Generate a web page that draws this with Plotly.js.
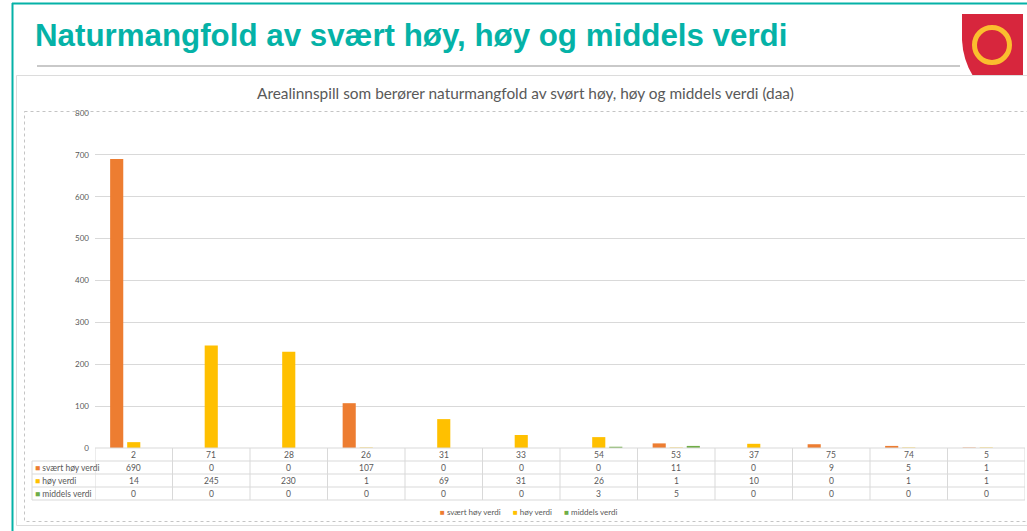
<!DOCTYPE html>
<html>
<head>
<meta charset="utf-8">
<script src="https://cdn.plot.ly/plotly-3.0.1.min.js"></script>
<style>
html,body{margin:0;padding:0;background:#fff;overflow:hidden;}
#chart{width:1027px;height:531px;}
</style>
</head>
<body>
<div id="chart"></div>
<script>
// ---- data ----
const categories = ['2','71','28','26','31','33','54','53','37','75','74','5'];
const svaertHoy = [690,0,0,107,0,0,0,11,0,9,5,1];
const hoy       = [14,245,230,1,69,31,26,1,10,0,1,1];
const middels   = [0,0,0,0,0,0,3,5,0,0,0,0];
const seriesNames = ['svært høy verdi','høy verdi','middels verdi'];
const yTicks = [0,100,200,300,400,500,600,700,800];
const slideTitle = 'Naturmangfold av svært høy, høy og middels verdi';
const chartTitle = 'Arealinnspill som berører naturmangfold av svørt høy, høy og middels verdi (daa)';

// ---- styling ----
const colors = ['#ED7D31','#FFC000','#70AD47'];
const seriesData = [svaertHoy, hoy, middels];
const W=1027, H=531, ml=95, mr=2, mt=113, mb=83;
const pw=W-ml-mr, ph=H-mt-mb;
const px = x => (x-ml)/pw;
const py = y => 1-(y-mt)/ph;
const gridC = '#d9d9d9', txtC = '#595959', teal = '#05B2A7';
const F = 'Lato, Carlito, Calibri, sans-serif';

const traces = seriesData.map((d,k)=>({
  type:'bar', x:categories, y:d, name:seriesNames[k],
  marker:{color:colors[k]}, hoverinfo:'skip', showlegend:false
}));

const shapes = [];
const ann = [];
// slide decorations
shapes.push({type:'line',xref:'paper',yref:'paper',x0:px(12.5),x1:px(12.5),y0:py(3),y1:py(540),line:{color:teal,width:2}});
shapes.push({type:'line',xref:'paper',yref:'paper',x0:px(12),x1:px(1040),y0:py(3.5),y1:py(3.5),line:{color:teal,width:2}});
shapes.push({type:'line',xref:'paper',yref:'paper',x0:px(37),x1:px(960),y0:py(66),y1:py(66),line:{color:'#c9c9c9',width:2}});
// logo
const p = (x,y)=>px(x).toFixed(5)+','+py(y).toFixed(5);
shapes.push({type:'path',xref:'paper',yref:'paper',
  path:'M'+p(962,14)+' L'+p(1023,14)+' L'+p(1023,76)+' L'+p(973,76)+' Q'+p(963,60)+' '+p(962,40)+' Z',
  fillcolor:'#D7263D',line:{width:0}});
shapes.push({type:'circle',xref:'paper',yref:'paper',x0:px(974.5),x1:px(1009.5),y0:py(27.5),y1:py(62.5),
  line:{color:'#FBBE2E',width:5},fillcolor:'rgba(0,0,0,0)'});
// chart frames
shapes.push({type:'rect',xref:'paper',yref:'paper',x0:px(16.5),x1:px(1040),y0:py(75.5),y1:py(525.5),line:{color:'#dcdcdc',width:1}});
shapes.push({type:'rect',xref:'paper',yref:'paper',x0:px(24.5),x1:px(1040),y0:py(111.5),y1:py(521.5),line:{color:'#c4c4c4',width:1,dash:'dot'}});

// data table grid
const rowTop = 448, rowH = 13;
shapes.push({type:'line',xref:'paper',yref:'paper',x0:px(95),x1:1,y0:py(rowTop),y1:py(rowTop),line:{color:gridC,width:1}});
for(let r=1;r<=4;r++){
  const y=rowTop+r*rowH;
  shapes.push({type:'line',xref:'paper',yref:'paper',x0:px(32),x1:1,y0:py(y),y1:py(y),line:{color:gridC,width:1}});
}
shapes.push({type:'line',xref:'paper',yref:'paper',x0:px(32),x1:px(32),y0:py(rowTop+rowH),y1:py(rowTop+4*rowH),line:{color:gridC,width:1}});
for(let i=0;i<=categories.length;i++){
  shapes.push({type:'line',xref:'x',yref:'paper',x0:i-0.5,x1:i-0.5,y0:py(rowTop),y1:py(rowTop+4*rowH),line:{color:gridC,width:1}});
}
seriesData.forEach((d,k)=>{
  const yc = py(rowTop+(k+1)*rowH+6.5);
  ann.push({xref:'paper',yref:'paper',x:px(33),y:yc,xanchor:'left',yanchor:'middle',showarrow:false,
    text:'<span style="color:'+colors[k]+'">■</span> '+seriesNames[k],font:{family:F,size:8.5,color:txtC}});
  d.forEach((v,i)=>{
    ann.push({xref:'x',yref:'paper',x:i,y:yc,xanchor:'center',yanchor:'middle',showarrow:false,
      text:String(v),font:{family:F,size:8.5,color:txtC}});
  });
});
// header row
categories.forEach((c,i)=>{
  ann.push({xref:'x',yref:'paper',x:i,y:py(rowTop+6.5),xanchor:'center',yanchor:'middle',showarrow:false,
    text:c,font:{family:F,size:8.5,color:txtC}});
});
// legend
ann.push({xref:'paper',yref:'paper',x:px(528),y:py(512),xanchor:'center',yanchor:'middle',showarrow:false,
  text:seriesNames.map((n,k)=>'<span style="color:'+colors[k]+'">■</span> '+n).join('      '),
  font:{family:F,size:8,color:txtC}});
// titles
ann.push({xref:'paper',yref:'paper',x:px(33),y:py(36),xanchor:'left',yanchor:'middle',showarrow:false,
  text:'<b>'+slideTitle+'</b>',font:{family:'Liberation Sans, Arial, sans-serif',size:31.3,color:teal}});
ann.push({xref:'paper',yref:'paper',x:px(525),y:py(93),xanchor:'center',yanchor:'middle',showarrow:false,
  text:chartTitle,font:{family:F,size:15.4,color:txtC}});

const layout = {
  width:W, height:H,
  margin:{l:ml,r:mr,t:mt,b:mb,pad:0},
  paper_bgcolor:'#ffffff', plot_bgcolor:'#ffffff',
  barmode:'group', bargap:0.34, bargroupgap:0.23,
  showlegend:false,
  xaxis:{type:'category', categoryorder:'array', categoryarray:categories,
    showticklabels:false, showgrid:false, zeroline:false, showline:false, ticks:'',
    range:[-0.5, categories.length-0.5], fixedrange:true},
  yaxis:{range:[0,800], tickvals:yTicks, ticktext:yTicks.map(String), showgrid:true, gridcolor:gridC, gridwidth:1,
    zeroline:false, showline:false, ticks:'', ticklabelstandoff:5,
    tickfont:{family:F,size:8,color:txtC}, fixedrange:true},
  shapes:shapes, annotations:ann,
  font:{family:F}
};
Plotly.newPlot('chart', traces, layout, {displayModeBar:false, staticPlot:true});
</script>
</body>
</html>
